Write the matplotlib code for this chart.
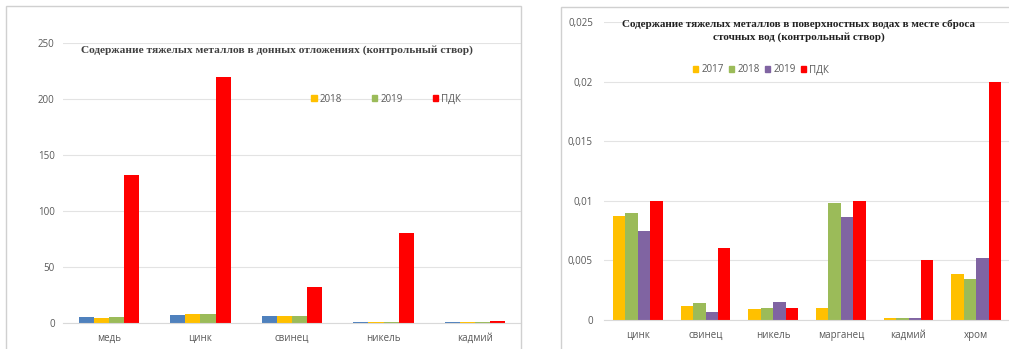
import numpy as np
import matplotlib.pyplot as plt
from matplotlib.patches import Rectangle, Patch

W, H = 1009, 349

# левая диаграмма: донные отложения
cat_l = ["медь", "цинк", "свинец", "никель", "кадмий"]
l_2017 = [5, 7, 6, 1, 1]
l_2018 = [4.5, 8, 6, 1, 1]
l_2019 = [5, 8, 6.5, 0.5, 0.5]
l_pdk = [132, 220, 32, 80, 2]

# правая диаграмма: поверхностные воды
cat_r = ["цинк", "свинец", "никель", "марганец", "кадмий", "хром"]
r_2017 = [0.0087, 0.0012, 0.0009, 0.0010, 0.0002, 0.0039]
r_2018 = [0.0090, 0.0014, 0.0010, 0.0098, 0.0002, 0.0034]
r_2019 = [0.0075, 0.0007, 0.0015, 0.0086, 0.0002, 0.0052]
r_pdk = [0.010, 0.006, 0.001, 0.010, 0.005, 0.020]

BLUE, YEL, GRN, PUR, RED = "#4F81BD", "#FFC000", "#9BBB59", "#8064A2", "#FF0000"
GRID = "#E3E3E3"
TXT = "#595959"

fig = plt.figure(figsize=(W / 100, H / 100), dpi=100)


def px_axes(x0, x1, y_top, y_bot):
    return fig.add_axes([x0 / W, 1 - y_bot / H, (x1 - x0) / W, (y_bot - y_top) / H])


# рамки панелей
for x0, y0, x1 in [(6, 6, 521), (561, 7, 1012)]:
    fig.patches.append(Rectangle((x0 / W, -0.1), (x1 - x0) / W, 1 - y0 / H + 0.1,
                                 transform=fig.transFigure, fill=False,
                                 edgecolor="#D0D0D0", linewidth=1.0))


def style(ax, cats, ymax, step, fmt, ypad):
    ax.set_xlim(-0.5, len(cats) - 0.5)
    ax.set_ylim(0, ymax)
    ax.set_yticks(np.arange(0, ymax + step / 2, step))
    ax.set_yticklabels([fmt(v) for v in np.arange(0, ymax + step / 2, step)])
    ax.set_xticks(range(len(cats)))
    ax.set_xticklabels(cats)
    for s in ["top", "right", "left"]:
        ax.spines[s].set_visible(False)
    ax.spines["bottom"].set_color("#D9D9D9")
    ax.tick_params(length=0, labelsize=7, colors=TXT, pad=7)
    ax.tick_params(axis="y", pad=ypad)
    ax.grid(axis="y", color=GRID, linewidth=0.8)
    ax.set_axisbelow(True)
    for t in ax.get_xticklabels() + ax.get_yticklabels():
        t.set_family("Open Sans")


# --- левая
axl = px_axes(63, 521, 43, 323)
x = np.arange(len(cat_l))
bw = 0.165
for i, (vals, c) in enumerate([(l_2017, BLUE), (l_2018, YEL), (l_2019, GRN), (l_pdk, RED)]):
    axl.bar(x + (i - 1.5) * bw, vals, bw, color=c)
style(axl, cat_l, 250, 50, lambda v: f"{v:.0f}", 6)
fig.text(277 / W, 1 - 50 / H, "Содержание тяжелых металлов в донных отложениях (контрольный створ)",
         ha="center", va="center", fontsize=8.2, fontweight="bold",
         family="Liberation Serif", color="#404040")
fig.legend(handles=[Patch(color=YEL, label="2018"), Patch(color=GRN, label="2019"),
                    Patch(color=RED, label="ПДК")],
           loc="center", bbox_to_anchor=(386 / W, 1 - 99 / H), ncol=3, frameon=False,
           handlelength=0.55, handleheight=0.55, handletextpad=0.3, columnspacing=3.1,
           prop={"family": "Open Sans", "size": 7}, labelcolor=TXT)

# --- правая
axr = px_axes(604, 1010, 22, 320)
x = np.arange(len(cat_r))
bw = 0.183
for i, (vals, c) in enumerate([(r_2017, YEL), (r_2018, GRN), (r_2019, PUR), (r_pdk, RED)]):
    axr.bar(x + (i - 1.5) * bw, vals, bw, color=c)
style(axr, cat_r, 0.025, 0.005, lambda v: "0" if v == 0 else f"{v:g}".replace(".", ","), 8)
fig.text(799 / W, 1 - 31 / H,
         "Содержание тяжелых металлов в поверхностных водах в месте сброса\nсточных вод (контрольный створ)",
         ha="center", va="center", fontsize=8, fontweight="bold",
         family="Liberation Serif", color="#202020", linespacing=1.45)
fig.legend(handles=[Patch(color=YEL, label="2017"), Patch(color=GRN, label="2018"),
                    Patch(color=PUR, label="2019"), Patch(color=RED, label="ПДК")],
           loc="center", bbox_to_anchor=(761 / W, 1 - 70 / H), ncol=4, frameon=False,
           handlelength=0.55, handleheight=0.55, handletextpad=0.3, columnspacing=0.55,
           prop={"family": "Open Sans", "size": 7}, labelcolor=TXT)

fig.savefig("out.png", dpi=100)
